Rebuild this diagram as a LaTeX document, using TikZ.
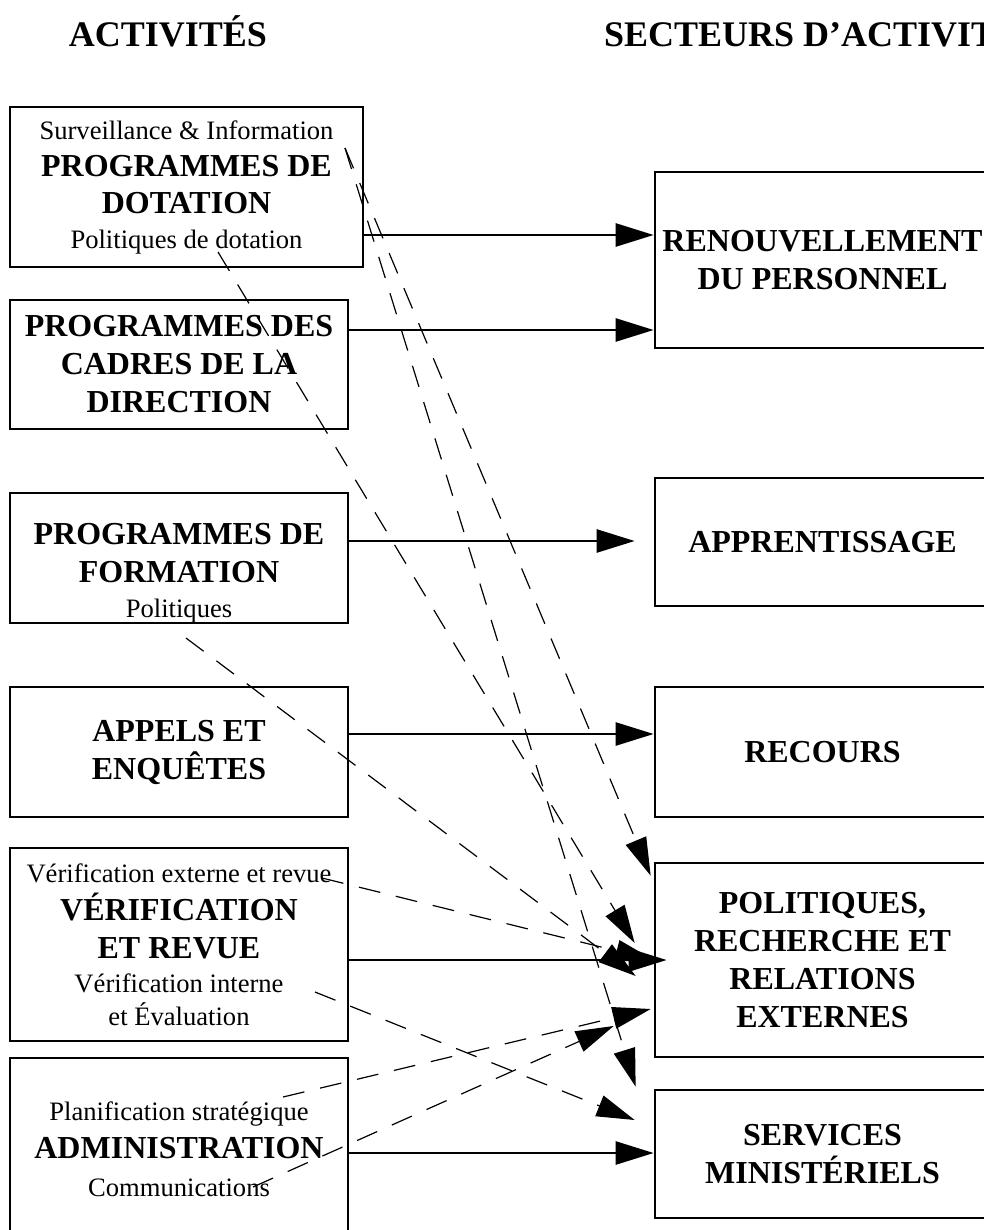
\documentclass[tikz,border=0pt]{standalone}
\usepackage{fontspec}
\setmainfont{Liberation Serif}
\usetikzlibrary{arrows.meta,calc}

\newcommand{\sm}{\mdseries\fontsize{13.3pt}{18.5pt}\selectfont}

\begin{document}
\begin{tikzpicture}[x=0.5pt,y=-0.5pt,
	box/.style={draw,line width=1.35pt,align=center,inner sep=0pt,
		font=\bfseries\fontsize{16pt}{19pt}\selectfont},
	titre/.style={font=\bfseries\fontsize{18pt}{20pt}\selectfont},
	flow/.style={line width=1.3pt,-{Triangle[length=19pt,width=11.5pt]}},
	link/.style={line width=0.6pt,dash pattern=on 11pt off 8pt,-{Triangle[length=19pt,width=11pt]}}]
		\useasboundingbox (0,0) rectangle (984,1230);
		\node[titre] (t-act) at (168,31) {ACTIVITÉS};
		\node[titre,anchor=west] (t-sec) at (597,31) {SECTEURS D’ACTIVITÉS};
		\node[box,minimum width=176.5pt,minimum height=80pt] (dot) at (186.5,187) {\sm Surveillance \& Information\\[-0.5pt] PROGRAMMES DE\\[-0.5pt] DOTATION\\[-1.5pt] \sm Politiques de dotation};
		\node[box,minimum width=169pt,minimum height=64.5pt] (cad) at (179,364.5) {PROGRAMMES DES\\ CADRES DE LA\\ DIRECTION};
		\node[box,minimum width=169pt,minimum height=65pt] (form) at (179,558) {\rule{0pt}{25.6pt}PROGRAMMES DE\\ FORMATION\\[-1.5pt] \sm Politiques};
		\node[box,minimum width=169pt,minimum height=65pt] (app) at (179,752) {APPELS ET\\ ENQUÊTES};
		\node[box,minimum width=169pt,minimum height=96.5pt] (ver) at (179,944.5) {\sm Vérification externe et revue\\ VÉRIFICATION\\ ET REVUE\\[-2pt] \sm Vérification interne\\[-2.5pt] \sm et Évaluation};
		\node[box,minimum width=169pt,minimum height=91pt] (adm) at (179,1149) {\sm Planification stratégique\\ ADMINISTRATION\\ \sm Communications};
		\node[box,minimum width=167.5pt,minimum height=88pt] (ren) at (822.5,260) {RENOUVELLEMENT\\ DU PERSONNEL};
		\node[box,minimum width=167.5pt,minimum height=64pt] (appr) at (822.5,542) {APPRENTISSAGE};
		\node[box,minimum width=167.5pt,minimum height=65pt] (rec) at (822.5,752) {RECOURS};
		\node[box,minimum width=167.5pt,minimum height=97pt] (pol) at (822.5,960) {POLITIQUES,\\ RECHERCHE ET\\ RELATIONS\\ EXTERNES};
		\node[box,minimum width=167.5pt,minimum height=64pt] (serv) at (822.5,1154) {SERVICES\\ MINISTÉRIELS};
		\coordinate (c-surv) at (345,148);
		\coordinate (c-dot) at (218,252);
		\coordinate (c-form) at (186,638);
		\coordinate (c-vext) at (322,878);
		\coordinate (c-vint) at (315,992);
		\coordinate (c-plan) at (283,1097);
		\coordinate (c-comm) at (253,1187);
		\draw[flow] ([yshift=-24pt]dot.east) -- ([yshift=-24pt]dot.east -| ren.west);
		\draw[flow] ([yshift=17.25pt]cad.east) -- ([yshift=17.25pt]cad.east -| ren.west);
		\draw[flow,shorten >=9.5pt] ([yshift=8.5pt]form.east) -- ([yshift=8.5pt]form.east -| appr.west);
		\draw[flow] ([yshift=9pt]app.east) -- ([yshift=9pt]app.east -| rec.west);
		\draw[flow,shorten >=-6.5pt] ([yshift=-7.75pt]ver.east) -- ([yshift=-7.75pt]ver.east -| pol.west);
		\draw[flow] ([yshift=-2pt]adm.east) -- ([yshift=-2pt]adm.east -| serv.west);
		\draw[link] (c-surv) -- ($(pol.north west)+(-3,14)$);
		\draw[link] (c-surv) -- ($(serv.north west)+(-18,-2)$);
		\draw[link] (c-dot) -- ($(pol.west)+(-19,-17)$);
		\draw[link] (c-form) -- ($(pol.west)+(-18,16)$);
		\draw[link] (c-vext) -- (pol.west);
		\draw[link] (c-vint) -- ($(serv.west)+(-19,-34)$);
		\draw[link] (c-plan) -- ($(pol.west)+(-3,49)$);
		\draw[link] (c-comm) -- ($(pol.west)+(-40,66)$);
	\end{tikzpicture}
\end{document}
